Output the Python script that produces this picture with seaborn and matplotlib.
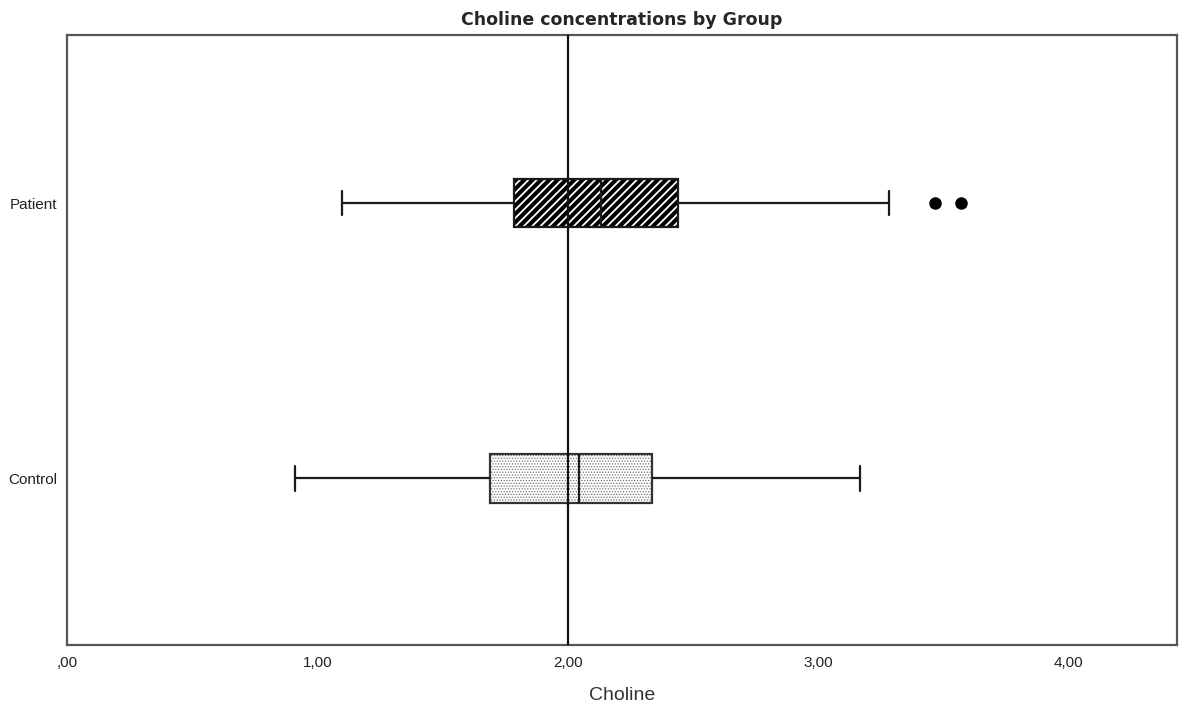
import numpy as np
import pandas as pd
import matplotlib
matplotlib.use("Agg")
import matplotlib.pyplot as plt
import seaborn as sns

# ---- data ----
groups = ["Patient", "Control"]
whisker_low = [1.10, 0.91]
q1 = [1.785, 1.69]
median = [2.135, 2.045]
q3 = [2.44, 2.338]
whisker_high = [3.285, 3.168]
outliers = [[3.467, 3.570], []]
x_ticks = [0, 1, 2, 3, 4]
x_tick_labels = [",00", "1,00", "2,00", "3,00", "4,00"]
ref_value = 2.0

# Build a sample whose box-plot summary reproduces the read values
rows = []
for g, lo, a, m, b, hi, outs in zip(groups, whisker_low, q1, median, q3, whisker_high, outliers):
    vals = [lo] + [a] * 10 + [m] * 10 + [b] * 10 + [hi] + list(outs)
    rows += [(g, v) for v in vals]
df = pd.DataFrame(rows, columns=["Group", "Choline"])

sns.set_style("white")
plt.rcParams["font.family"] = ["Liberation Sans", "DejaVu Sans"]

fig, ax = plt.subplots(figsize=(11.82, 7.13), dpi=100)
fig.subplots_adjust(left=67/1182, right=1177/1182, top=1-35/713, bottom=1-645/713)

sns.boxplot(data=df, x="Choline", y="Group", order=groups, orient="h",
            width=0.175, whis=1.5, linewidth=1.6, color="white",
            linecolor="#1a1a1a",
            flierprops=dict(marker="o", markerfacecolor="black",
                            markeredgecolor="black", markersize=8),
            medianprops=dict(color="#1a1a1a", linewidth=1.6),
            ax=ax)

boxes = [p for p in ax.patches]
# Patient: black box with thin white diagonal stripes
pb = boxes[0]
pb.set_facecolor("black")
pb.set_edgecolor("#1a1a1a")
pb.set_hatch("////")
pb._hatch_color = (1, 1, 1, 1)
if hasattr(pb, "set_hatch_linewidth"):
    pb.set_hatch_linewidth(1.3)
# Control: white box with fine grey dots
cb = boxes[1]
cb.set_facecolor("white")
cb.set_edgecolor("#333333")
cb.set_hatch("......")
cb._hatch_color = (0.45, 0.45, 0.45, 1)
if hasattr(cb, "set_hatch_linewidth"):
    cb.set_hatch_linewidth(0.6)

ax.axvline(ref_value, color="#111111", linewidth=1.6, zorder=10)

ax.set_xlim(0, 4.434)
ax.set_ylim(1.605, -0.6115)
ax.set_xticks(x_ticks)
ax.set_xticklabels(x_tick_labels)
ax.tick_params(axis="x", direction="in", length=4, color="#999999",
               labelsize=11, labelcolor="#222222", pad=8)
ax.tick_params(axis="y", length=0, labelsize=11, labelcolor="#222222", pad=7)

ax.set_xlabel("Choline", fontsize=14, color="#333333", labelpad=12)
ax.set_ylabel("")
ax.set_title("Choline concentrations by Group", fontsize=12.5,
             fontweight="bold", family=["DejaVu Sans"], pad=7)

for s in ax.spines.values():
    s.set_visible(True)
    s.set_color("#555555")
    s.set_linewidth(1.6)

fig.savefig("out.png", dpi=100)
